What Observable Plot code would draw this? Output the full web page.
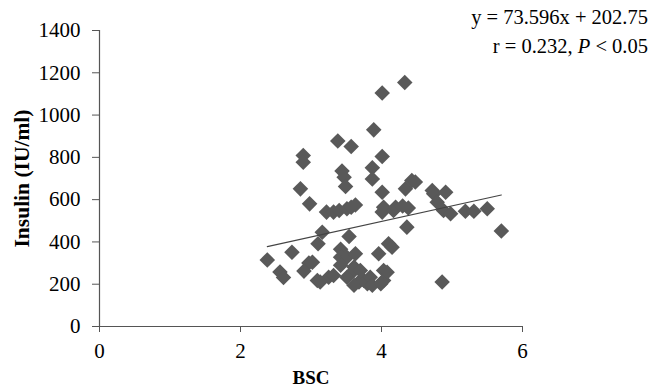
<!DOCTYPE html>
<html>
<head>
<meta charset="utf-8">
<script src="https://cdn.jsdelivr.net/npm/d3@7"></script>
<script src="https://cdn.jsdelivr.net/npm/@observablehq/plot@0.6"></script>
<style>
  html, body { margin: 0; padding: 0; background: #fff; }
  #wrap { position: relative; width: 654px; height: 391px; font-family: "Liberation Serif", "Times New Roman", serif; }
  #note { position: absolute; right: 6px; top: 3px; text-align: right; font-size: 20.5px; line-height: 29px; color: #000; }
  #wrap svg text { font-family: "Liberation Serif", "Times New Roman", serif; }
  #wrap svg g[aria-label='x-axis tick label'] text,
  #wrap svg g[aria-label='y-axis tick label'] text { font-size: 21px; }
  #wrap svg g[aria-label='x-axis label'] text { font-size: 19px; font-weight: bold; }
  #wrap svg g[aria-label='y-axis label'] text { font-size: 21.5px; font-weight: bold; }
</style>
</head>
<body>
<div id="wrap"><div id="note"></div></div>
<script>
// Data
const bsc = [
  2.38, 2.56, 2.61, 2.73, 2.85, 2.89, 2.89, 2.98, 2.97, 2.90,
  3.02, 3.09, 3.10, 3.16, 3.22, 3.32, 3.40, 3.25, 3.32, 3.13,
  3.38, 3.44, 3.47, 3.49, 3.51, 3.57, 3.63, 3.54, 3.57, 3.42,
  3.42, 3.51, 3.63, 3.42, 3.61, 3.61, 3.51, 3.68, 3.61, 3.75,
  3.80, 3.84, 3.87, 3.70, 3.87, 3.87, 3.89, 3.96, 3.99, 4.03,
  4.03, 4.08, 4.10, 4.15, 4.01, 4.01, 4.01, 4.01, 4.03, 4.17,
  4.20, 4.30, 4.38, 4.36, 4.33, 4.34, 4.43, 4.48, 4.72, 4.74,
  4.79, 4.88, 4.91, 4.98, 4.86, 5.19, 5.31, 5.50, 5.70
];
const insulin = [
  315, 258, 232, 351, 651, 809, 777, 580, 300, 262,
  304, 218, 391, 446, 541, 541, 549, 233, 241, 210,
  877, 735, 706, 662, 557, 564, 575, 426, 851, 365,
  328, 328, 344, 290, 281, 265, 233, 210, 195, 218,
  202, 233, 195, 265, 751, 698, 930, 344, 202, 218,
  265, 257, 391, 375, 1104, 804, 635, 541, 564, 549,
  564, 570, 560, 470, 1154, 651, 690, 683, 643, 628,
  588, 549, 635, 533, 210, 545, 545, 557, 452
];
const xTicks = [0, 2, 4, 6];
const yTicks = [0, 200, 400, 600, 800, 1000, 1200, 1400];
const slope = 73.596, intercept = 202.75;
const fitRange = [2.38, 5.70];
const equationText = "y = 73.596x + 202.75";

const points = bsc.map((x, i) => ({x, y: insulin[i]}));
const fitLine = fitRange.map(x => ({x, y: slope * x + intercept}));

const axisColor = "#555";
const chart = Plot.plot({
  width: 654,
  height: 391,
  marginLeft: 99,
  marginRight: 132,
  marginTop: 30,
  marginBottom: 65,
  style: {fontFamily: "'Liberation Serif', 'Times New Roman', serif", color: "#000", background: "transparent"},
  x: {domain: [0, 6]},
  y: {domain: [0, 1400]},
  marks: [
    Plot.axisX({ticks: xTicks, tickFormat: d => String(d), tickSize: 6, tickPadding: 11, stroke: axisColor, strokeOpacity: 1, label: "BSC", labelAnchor: "center", labelArrow: "none", labelOffset: 57}),
    Plot.axisY({ticks: yTicks, tickFormat: d => String(d), tickSize: 7, tickPadding: 12, stroke: axisColor, strokeOpacity: 1, label: "Insulin (IU/ml)", labelAnchor: "center", labelArrow: "none", labelOffset: 86}),
    Plot.ruleY([0], {stroke: axisColor, strokeWidth: 1.2}),
    Plot.ruleX([0], {stroke: axisColor, strokeWidth: 1.2}),
    Plot.dot(points, {x: "x", y: "y", symbol: "diamond2", r: 7, fill: "#595959", stroke: "none"}),
    Plot.line(fitLine, {x: "x", y: "y", stroke: "#444", strokeWidth: 1.1})
  ]
});
document.getElementById("wrap").prepend(chart);
const note = document.getElementById("note");
const l1 = document.createElement("div"); l1.textContent = equationText;
const l2 = document.createElement("div");
l2.append("r = 0.232, ");
const ip = document.createElement("i"); ip.textContent = "P"; l2.append(ip);
l2.append(" < 0.05");
note.append(l1, l2);
</script>
</body>
</html>
